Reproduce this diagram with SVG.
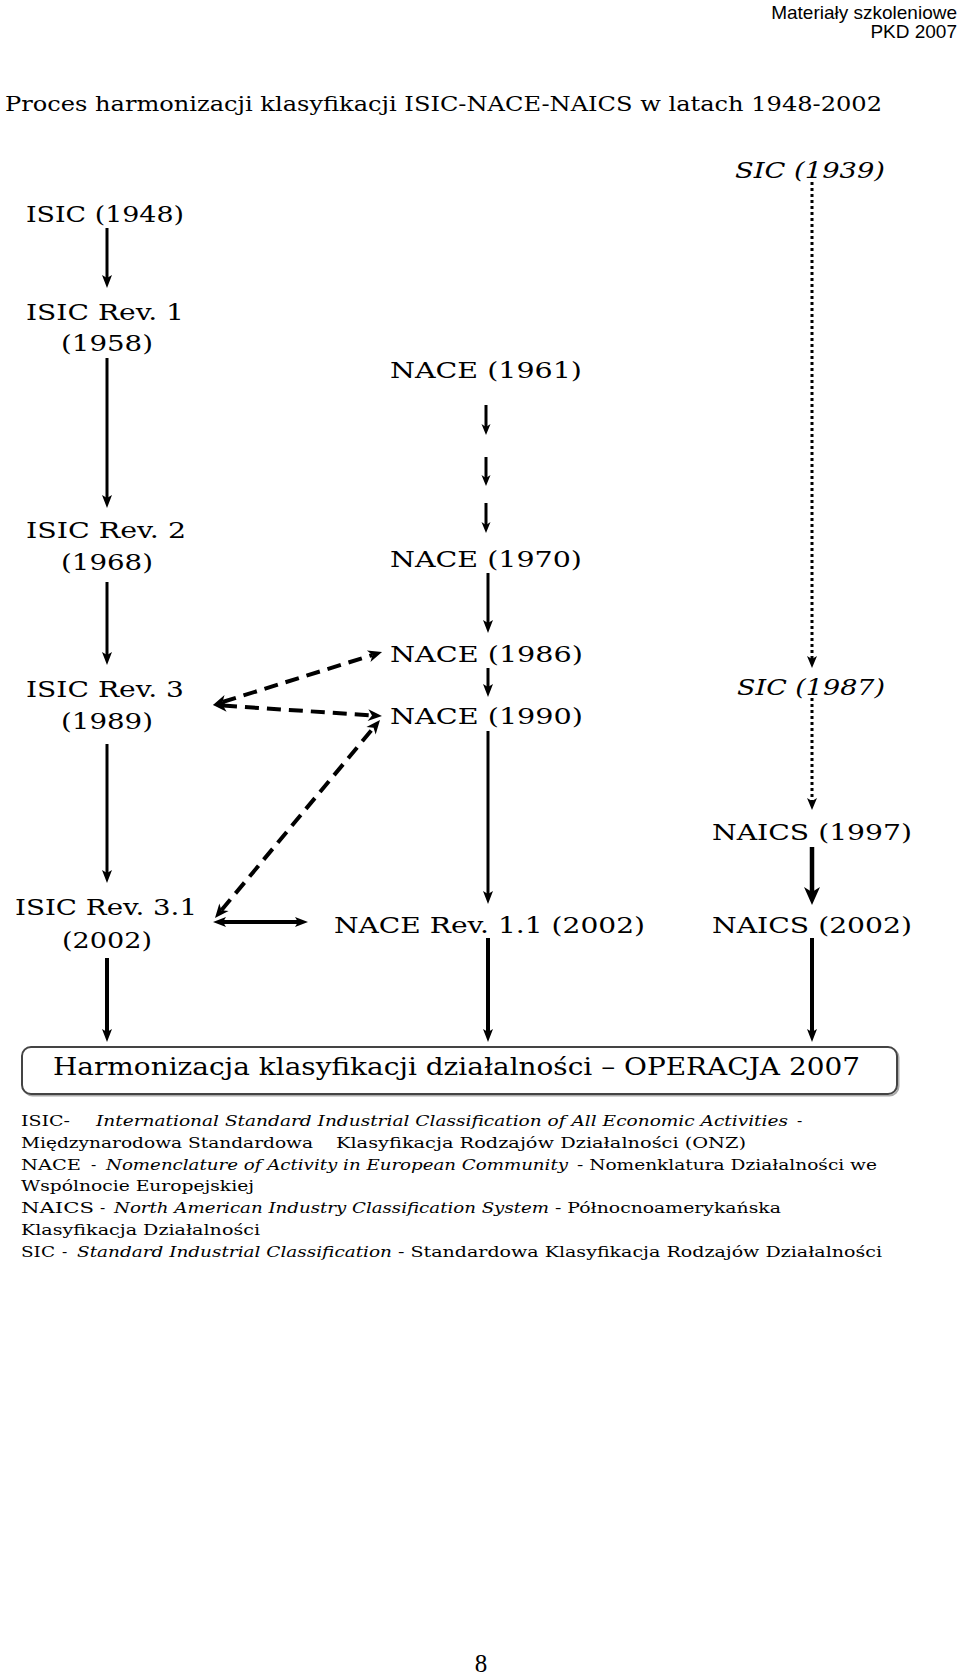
<svg xmlns="http://www.w3.org/2000/svg" width="960" height="1674" viewBox="0 0 960 1674">
<style>
.hd{font-family:"Liberation Sans",Arial,sans-serif;font-size:19px;fill:#000}
.tt{font-family:"DejaVu Serif","Liberation Serif",serif;font-size:21px;fill:#000}
.n{font-family:"DejaVu Serif","Liberation Serif",serif;font-size:23px;fill:#000}
.ni{font-family:"DejaVu Serif","Liberation Serif",serif;font-size:23px;font-style:italic;fill:#000}
.bx{font-family:"DejaVu Serif","Liberation Serif",serif;font-size:25px;fill:#000}
.lg{font-family:"DejaVu Serif","Liberation Serif",serif;font-size:15.5px;fill:#000}
.lgi{font-family:"DejaVu Serif","Liberation Serif",serif;font-size:15.5px;font-style:italic;fill:#000}
.pg{font-family:"Liberation Serif","Times New Roman",serif;font-size:25px;fill:#000}
.s{stroke:#000;fill:none;stroke-width:3}
.sw{stroke:#000;fill:none;stroke-width:4}
.dot{stroke:#000;fill:none;stroke-width:3;stroke-dasharray:3 3}
.dash{stroke:#000;fill:none;stroke-width:4;stroke-dasharray:14 8}
</style>
<defs>
<marker id="ah" markerUnits="userSpaceOnUse" markerWidth="14" markerHeight="12" refX="3" refY="5" orient="auto-start-reverse" overflow="visible"><path d="M0,0 L13,5 L0,10 L3,5 z" fill="#000"/></marker>
<marker id="ahs" markerUnits="userSpaceOnUse" markerWidth="12" markerHeight="10" refX="3" refY="4.5" orient="auto" overflow="visible"><path d="M0,0 L11,4.5 L0,9 L3,4.5 z" fill="#000"/></marker>
<marker id="ahb" markerUnits="userSpaceOnUse" markerWidth="18" markerHeight="16" refX="5" refY="8" orient="auto" overflow="visible"><path d="M0,0 L18,8 L0,16 L5,8 z" fill="#000"/></marker>
<marker id="ahd" markerUnits="userSpaceOnUse" markerWidth="12" markerHeight="10" refX="3" refY="5" orient="auto" overflow="visible"><path d="M0,0 L12,5 L0,10 L3,5 z" fill="#000"/></marker>
<marker id="ahx" markerUnits="userSpaceOnUse" markerWidth="14" markerHeight="12" refX="4" refY="6" orient="auto-start-reverse" overflow="visible"><path d="M0,0 L14,6 L0,12 L4,6 z" fill="#000"/></marker>
</defs>
<rect width="960" height="1674" fill="#fff"/>

<g id="header">
<text class="hd" x="957" y="19" text-anchor="end">Materiały szkoleniowe</text>
<text class="hd" x="957" y="38" text-anchor="end">PKD 2007</text>
</g>

<g id="title">
<text class="tt" x="5" y="111" textLength="877" lengthAdjust="spacingAndGlyphs">Proces harmonizacji klasyfikacji ISIC-NACE-NAICS w latach 1948-2002</text>
</g>

<g id="isic1948"><text class="n" x="26" y="222" textLength="158" lengthAdjust="spacingAndGlyphs">ISIC (1948)</text></g>
<g id="isicrev1"><text class="n" x="26" y="320" textLength="158" lengthAdjust="spacingAndGlyphs">ISIC Rev. 1</text><text class="n" x="61" y="351" textLength="92" lengthAdjust="spacingAndGlyphs">(1958)</text></g>
<g id="isicrev2"><text class="n" x="26" y="538" textLength="160" lengthAdjust="spacingAndGlyphs">ISIC Rev. 2</text><text class="n" x="61" y="570" textLength="92" lengthAdjust="spacingAndGlyphs">(1968)</text></g>
<g id="isicrev3"><text class="n" x="26" y="697" textLength="158" lengthAdjust="spacingAndGlyphs">ISIC Rev. 3</text><text class="n" x="61" y="729" textLength="92" lengthAdjust="spacingAndGlyphs">(1989)</text></g>
<g id="isicrev31"><text class="n" x="15" y="915" textLength="182" lengthAdjust="spacingAndGlyphs">ISIC Rev. 3.1</text><text class="n" x="62" y="948" textLength="90" lengthAdjust="spacingAndGlyphs">(2002)</text></g>

<g id="nace1961"><text class="n" x="390" y="378" textLength="192" lengthAdjust="spacingAndGlyphs">NACE (1961)</text></g>
<g id="nace1970"><text class="n" x="390" y="567" textLength="192" lengthAdjust="spacingAndGlyphs">NACE (1970)</text></g>
<g id="nace1986"><text class="n" x="390" y="662" textLength="193" lengthAdjust="spacingAndGlyphs">NACE (1986)</text></g>
<g id="nace1990"><text class="n" x="390" y="724" textLength="193" lengthAdjust="spacingAndGlyphs">NACE (1990)</text></g>
<g id="nacerev11"><text class="n" x="334" y="933" textLength="311" lengthAdjust="spacingAndGlyphs">NACE Rev. 1.1 (2002)</text></g>

<g id="sic1939"><text class="ni" x="735" y="178" textLength="150" lengthAdjust="spacingAndGlyphs">SIC (1939)</text></g>
<g id="sic1987"><text class="ni" x="737" y="695" textLength="148" lengthAdjust="spacingAndGlyphs">SIC (1987)</text></g>
<g id="naics1997"><text class="n" x="712" y="840" textLength="200" lengthAdjust="spacingAndGlyphs">NAICS (1997)</text></g>
<g id="naics2002"><text class="n" x="712" y="933" textLength="200" lengthAdjust="spacingAndGlyphs">NAICS (2002)</text></g>

<g id="operacja2007">
<rect x="23.5" y="1048.5" width="875" height="47" rx="9" fill="none" stroke="#aaa" stroke-width="2"/>
<rect x="22" y="1047" width="875" height="47" rx="9" fill="#fff" stroke="#444" stroke-width="2"/>
<text class="bx" x="53" y="1075" textLength="807" lengthAdjust="spacingAndGlyphs">Harmonizacja klasyfikacji działalności – OPERACJA 2007</text>
</g>

<g id="connectors">
<line class="s" x1="107" y1="228" x2="107" y2="278" marker-end="url(#ah)"/>
<line class="s" x1="107" y1="358" x2="107" y2="498" marker-end="url(#ah)"/>
<line class="s" x1="107" y1="582" x2="107" y2="655" marker-end="url(#ah)"/>
<line class="s" x1="107" y1="744" x2="107" y2="873" marker-end="url(#ah)"/>
<line class="sw" x1="107" y1="958" x2="107" y2="1032" marker-end="url(#ah)"/>

<line class="s" x1="486" y1="405" x2="486" y2="427" marker-end="url(#ahs)"/>
<line class="s" x1="486" y1="457" x2="486" y2="478" marker-end="url(#ahs)"/>
<line class="s" x1="486" y1="503" x2="486" y2="525" marker-end="url(#ahs)"/>
<line class="s" x1="488" y1="573" x2="488" y2="623" marker-end="url(#ah)"/>
<line class="s" x1="488" y1="668" x2="488" y2="687" marker-end="url(#ah)"/>
<line class="s" x1="488" y1="731" x2="488" y2="894" marker-end="url(#ah)"/>
<line class="sw" x1="488" y1="938" x2="488" y2="1032" marker-end="url(#ah)"/>

<line class="dot" x1="812" y1="182" x2="812" y2="659" marker-end="url(#ahd)"/>
<line class="dot" x1="812" y1="698" x2="812" y2="801" marker-end="url(#ahd)"/>
<line stroke="#000" stroke-width="4.5" x1="812" y1="847" x2="812" y2="892" marker-end="url(#ahb)"/>
<line class="sw" x1="812" y1="938" x2="812" y2="1032" marker-end="url(#ah)"/>

<line class="dash" x1="222.5" y1="702" x2="372.5" y2="655" marker-start="url(#ahx)" marker-end="url(#ahx)"/>
<line class="dash" x1="223" y1="705.6" x2="372" y2="715.4" marker-start="url(#ahx)" marker-end="url(#ahx)"/>
<line class="dash" x1="221.4" y1="910.3" x2="373.6" y2="727.7" marker-start="url(#ahx)" marker-end="url(#ahx)"/>
<line class="sw" x1="223" y1="922" x2="298" y2="922" marker-start="url(#ah)" marker-end="url(#ah)"/>
</g>

<g id="legend">
<text class="lg" x="21" y="1126" textLength="49" lengthAdjust="spacingAndGlyphs">ISIC-</text>
<text class="lgi" x="96" y="1126" textLength="692" lengthAdjust="spacingAndGlyphs">International Standard Industrial Classification of All Economic Activities</text>
<text class="lg" x="797" y="1126">-</text>
<text class="lg" x="21" y="1148" textLength="292" lengthAdjust="spacingAndGlyphs">Międzynarodowa Standardowa</text>
<text class="lg" x="336" y="1148" textLength="410" lengthAdjust="spacingAndGlyphs">Klasyfikacja Rodzajów Działalności (ONZ)</text>
<text class="lg" x="21" y="1170" textLength="60" lengthAdjust="spacingAndGlyphs">NACE</text>
<text class="lg" x="91" y="1170">-</text>
<text class="lgi" x="106" y="1170" textLength="462" lengthAdjust="spacingAndGlyphs">Nomenclature of Activity in European Community</text>
<text class="lg" x="577" y="1170" textLength="300" lengthAdjust="spacingAndGlyphs">- Nomenklatura Działalności we</text>
<text class="lg" x="21" y="1191" textLength="233" lengthAdjust="spacingAndGlyphs">Wspólnocie Europejskiej</text>
<text class="lg" x="21" y="1213" textLength="73" lengthAdjust="spacingAndGlyphs">NAICS</text>
<text class="lg" x="100" y="1213">-</text>
<text class="lgi" x="114" y="1213" textLength="435" lengthAdjust="spacingAndGlyphs">North American Industry Classification System</text>
<text class="lg" x="555" y="1213" textLength="226" lengthAdjust="spacingAndGlyphs">- Północnoamerykańska</text>
<text class="lg" x="21" y="1235" textLength="239" lengthAdjust="spacingAndGlyphs">Klasyfikacja Działalności</text>
<text class="lg" x="21" y="1257" textLength="34" lengthAdjust="spacingAndGlyphs">SIC</text>
<text class="lg" x="62" y="1257">-</text>
<text class="lgi" x="77" y="1257" textLength="315" lengthAdjust="spacingAndGlyphs">Standard Industrial Classification</text>
<text class="lg" x="398" y="1257" textLength="484" lengthAdjust="spacingAndGlyphs">- Standardowa Klasyfikacja Rodzajów Działalności</text>
</g>

<g id="page-number"><text class="pg" x="481" y="1672" text-anchor="middle">8</text></g>
</svg>
